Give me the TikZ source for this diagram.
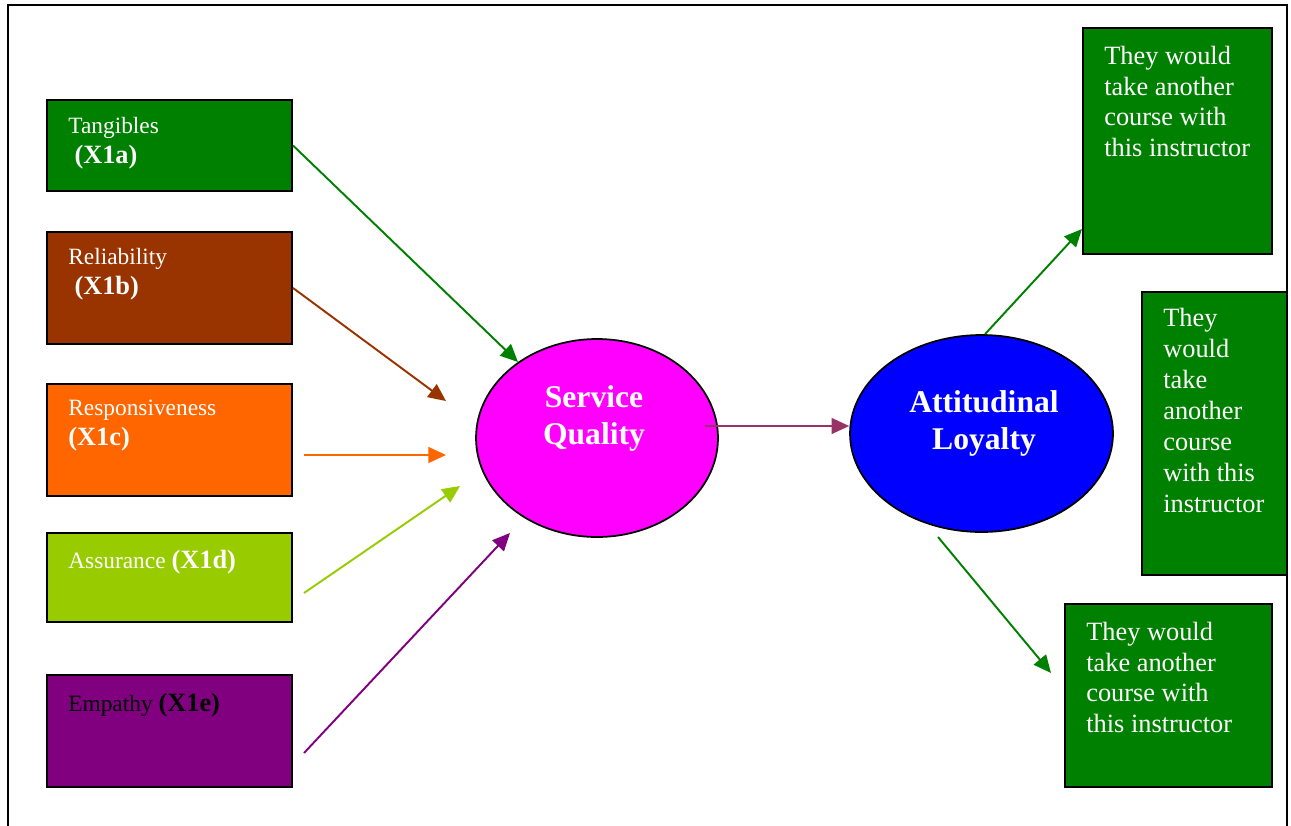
\documentclass[tikz,border=0pt]{standalone}
\usepackage{fontspec}
\setmainfont{Liberation Serif}
\usetikzlibrary{arrows.meta,shapes.geometric}
\definecolor{tanGreen}{HTML}{008000}
\definecolor{relBrown}{HTML}{993300}
\definecolor{respOrange}{HTML}{FF6600}
\definecolor{assLime}{HTML}{99CC00}
\definecolor{empPurple}{HTML}{800080}
\definecolor{sqMagenta}{HTML}{FF00FF}
\definecolor{alBlue}{HTML}{0000FF}
\definecolor{linkPlum}{HTML}{993366}
\newcommand{\code}[1]{{\fontsize{15}{17}\selectfont\bfseries #1}}

\begin{document}
\begin{tikzpicture}[x=0.02cm,y=-0.02cm,
  dimbox/.style={draw=black, line width=1.2pt, inner sep=0pt, minimum width=4.9cm},
  outbox/.style={draw=black, line width=1.2pt, inner sep=0pt, fill=tanGreen},
  latent/.style={draw=black, line width=1pt, ellipse, inner sep=0pt},
  smalltxt/.style={anchor=north west, inner sep=0pt, align=left, text=white, font=\fontsize{13.3}{17}\selectfont},
  bigtxt/.style={anchor=north west, inner sep=0pt, align=left, text=white, font=\fontsize{15}{17.6}\selectfont},
  headtxt/.style={anchor=north, inner sep=0pt, align=center, text=white, font=\fontsize{18}{21}\selectfont\bfseries},
  link/.style={line width=1.1pt, -{Triangle[length=10pt,width=9pt]}}]
\useasboundingbox (0,0) rectangle (1291,825);
\draw[line width=1.2pt] (8,826) |- (1287,5) -- (1287,826);
% five service quality dimensions
\node[dimbox, fill=tanGreen,   minimum height=1.82cm] (tang)   at (169.5,145.5) {};
\node[dimbox, fill=relBrown,   minimum height=2.24cm] (rel)    at (169.5,288)   {};
\node[dimbox, fill=respOrange, minimum height=2.24cm] (resp)   at (169.5,440)   {};
\node[dimbox, fill=assLime,    minimum height=1.78cm] (assur)  at (169.5,577.5) {};
\node[dimbox, fill=empPurple,  minimum height=2.24cm] (emp)    at (169.5,731)   {};
\node[smalltxt] (tangT)  at (68,117) {Tangibles\\\hspace{3.5pt}\code{(X1a)}};
\node[smalltxt] (relT)   at (68,248) {Reliability\\\hspace{3.5pt}\code{(X1b)}};
\node[smalltxt] (respT)  at (68,400) {Responsiveness\\\code{(X1c)}};
\node[smalltxt] (assurT) at (68,550) {Assurance \code{(X1d)}};
\node[smalltxt, text=black] (empT) at (68,693) {Empathy \code{(X1e)}};
% the two constructs
\node[latent, fill=sqMagenta, minimum width=4.84cm, minimum height=3.96cm] (sq) at (597,438) {};
\node[latent, fill=alBlue,    minimum width=5.26cm, minimum height=3.94cm] (al) at (981.5,433.5) {};
\node[headtxt] (sqT) at (594,385.5) {Service\\Quality};
\node[headtxt] (alT) at (984,390.5) {Attitudinal\\Loyalty\hspace{5pt}};
% loyalty outcomes
\node[outbox, minimum width=3.78cm, minimum height=4.52cm] (r1) at (1177.5,141)   {};
\node[outbox, minimum width=2.9cm,  minimum height=5.66cm] (r2) at (1214.5,433.5) {};
\node[outbox, minimum width=4.14cm, minimum height=3.66cm] (r3) at (1168.5,695.5) {};
\node[bigtxt] (r1T) at (1104,45.5) {They would\\take another\\course with\\this instructor};
\node[bigtxt] (r2T) at (1163,308) {They\\would\\take\\another\\course\\with this\\instructor};
\node[bigtxt] (r3T) at (1086,621.5) {They would\\take another\\course with\\this instructor};
% free arrow ends
\coordinate (relE)   at (446,401);
\coordinate (respS)  at (304,455);
\coordinate (respE)  at (446,455);
\coordinate (assurS) at (304,593);
\coordinate (assurE) at (460,486);
\coordinate (empS)   at (304,753);
\coordinate (empE)   at (510,533);
\coordinate (sqS)    at (705,426);
\coordinate (r3S)    at (938,537);
\coordinate (r3E)    at (1051,673);
% paths
\draw[link, tanGreen]   (tang.east) -- (sq);
\draw[link, relBrown]   (rel.east) -- (relE);
\draw[link, respOrange] (respS) -- (respE);
\draw[link, assLime]    (assurS) -- (assurE);
\draw[link, empPurple]  (empS) -- (empE);
\draw[link, linkPlum]   (sqS) -- (sqS -| al.west);
\draw[link, tanGreen]   (al.88) -- ([yshift=0.52cm]r1.south west);
\draw[link, tanGreen]   (r3S) -- (r3E);
\end{tikzpicture}
\end{document}
